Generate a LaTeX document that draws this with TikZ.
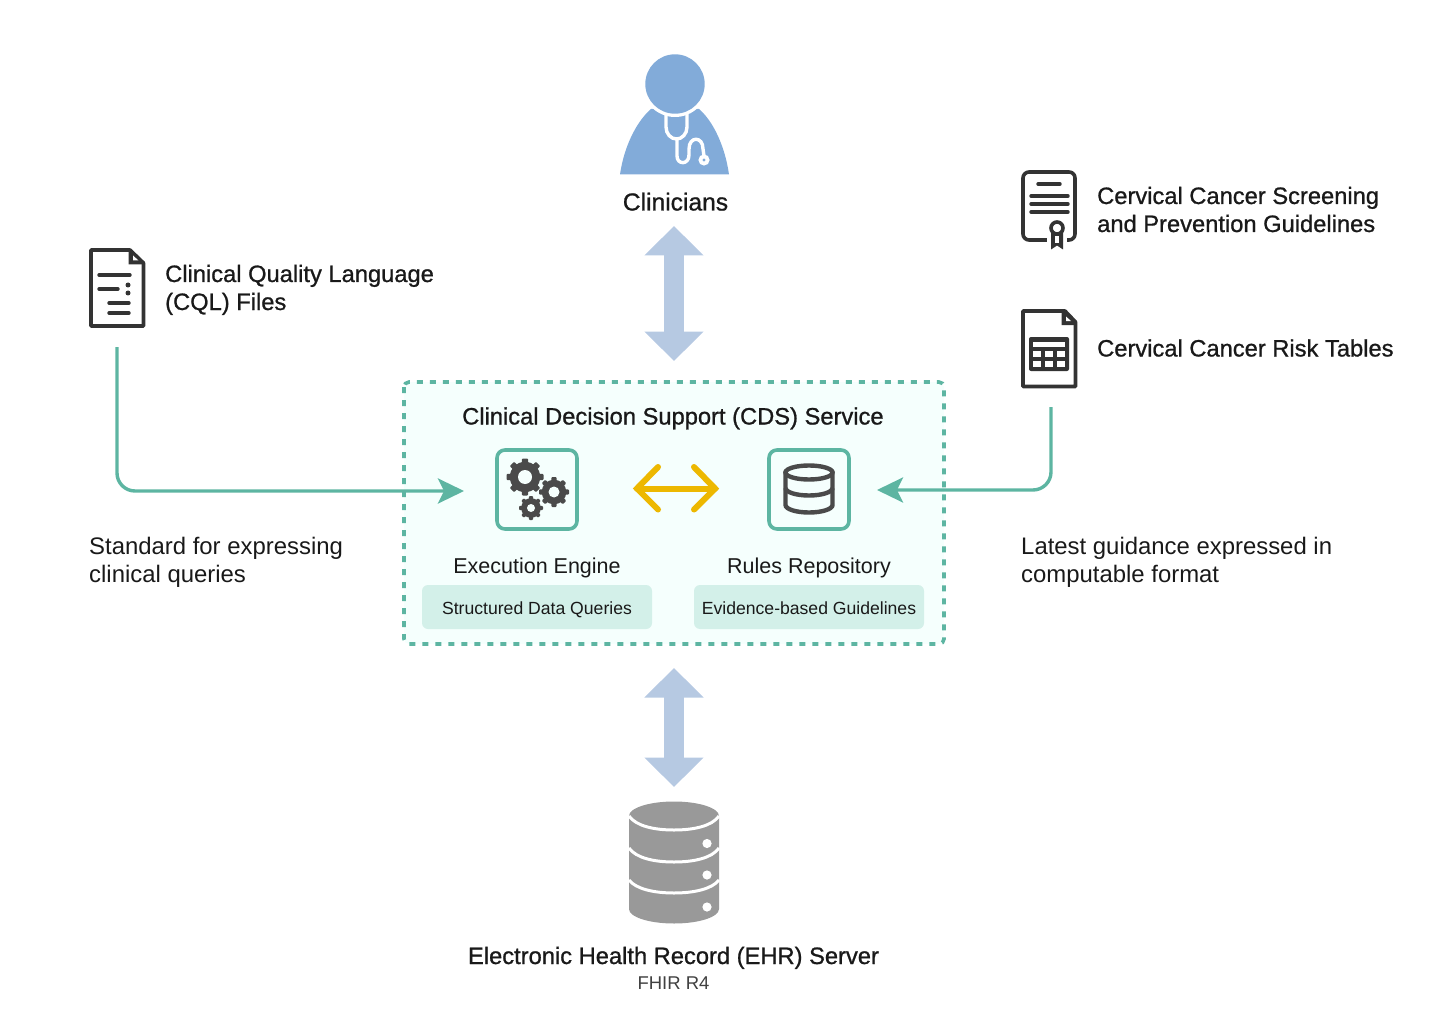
\documentclass[tikz,border=0pt]{standalone}
\usepackage{fontspec}
\setmainfont{Liberation Sans}
\newfontfamily\medfont[FakeBold=0.9]{Liberation Sans}
\usetikzlibrary{arrows.meta}
\definecolor{ink}{HTML}{333333}
\definecolor{gearc}{HTML}{4A4A4A}
\definecolor{teal}{HTML}{5DB5A2}
\definecolor{boxbg}{HTML}{F5FFFD}
\definecolor{pill}{HTML}{D3F0E9}
\definecolor{skyb}{HTML}{B6C9E2}
\definecolor{docblue}{HTML}{82ABD9}
\definecolor{gold}{HTML}{EDB800}
\definecolor{dbgrey}{HTML}{999999}
\newcommand{\mygear}[5]{% x,y,outer,hole,teeth
  \begin{scope}[shift={(#1,#2)}]
    \fill[gearc] (0,0) circle ({#3*0.82});
    \foreach \k in {1,...,#5}{
      \fill[gearc,rotate={360/#5*\k},rounded corners=1pt] ({-#3*0.17},0) rectangle ({#3*0.17},{#3});
    }
    \fill[boxbg] (0,0) circle (#4);
  \end{scope}}
\tikzset{
  x=1pt,y=-1pt,
  txt/.style={inner sep=0pt,text=black!90,anchor=base west,align=left},
  boldt/.style={txt,font=\medfont\fontsize{23.7}{28}\selectfont},
  regt/.style={txt,font=\fontsize{23.9}{28}\selectfont},
  subt/.style={txt,anchor=base,font=\fontsize{21.5}{26}\selectfont},
  pillt/.style={txt,anchor=base,font=\fontsize{17.6}{22}\selectfont},
  icon/.style={draw=ink,line width=3.6pt,line join=round,fill=white},
  iconl/.style={draw=ink,line width=3.4pt,line cap=round},
  tealbox/.style={draw=teal,line width=3.6pt,rounded corners=8pt},
  pillbox/.style={fill=pill,rounded corners=6pt},
  conn/.style={draw=teal,line width=3.4pt,rounded corners=18pt,-{Stealth[length=26pt,width=25pt,inset=6pt]}},
  bigarrow/.style={draw=skyb,line width=20pt,{Triangle[length=29.5pt,width=57.5pt]}-{Triangle[length=29.5pt,width=57.5pt]}},
  goldarrow/.style={draw=gold,line width=6pt,line cap=round,line join=miter},
}
\begin{document}
\begin{tikzpicture}
\useasboundingbox (0,0) rectangle (1440,1024);
% CDS box
\draw[draw=teal,fill=boxbg,line width=3.6pt,rounded corners=5pt,dash pattern=on 6pt off 7pt] (404,382) rectangle (944,644);
\node[boldt] (cdstitle) at (462,424.5) {Clinical Decision Support (CDS) Service};
% clinician
\fill[docblue] (620,174.5) .. controls (624,146) and (637,121) .. (651,109) -- (699,109) .. controls (713,121) and (725,146) .. (729,174.5) -- cycle;
\fill[white] (675,84) circle (33);
\fill[docblue] (675,84) circle (29.7);
\draw[white,line width=3.4pt] (666,114) -- (666,127) .. controls (666,134) and (671,139) .. (676.5,139) .. controls (682,139) and (687,134) .. (687,127) -- (687,114);
\draw[white,line width=3.4pt] (677,139) -- (677,156) .. controls (677,165) and (689,165) .. (689,155) -- (689,149) .. controls (689,136) and (703,136) .. (703,149) -- (704,156);
\fill[white] (704,160) circle (5.6);
\fill[docblue] (704,160) circle (1.6);
\node[boldt,anchor=base,font=\medfont\fontsize{24.6}{28}\selectfont] (clin) at (675.5,210.5) {Clinicians};
% CQL doc
\draw[icon] (91,250) -- (130,250) -- (143.5,263) -- (143.5,326) -- (91,326) -- cycle;
\fill[ink] (128.5,249) -- (145,264.5) -- (128.5,264.5) -- cycle;
\fill[white] (133,255.5) -- (138.5,260.5) -- (133,260.5) -- cycle;
\draw[iconl] (99,275) -- (130,275);
\draw[iconl] (99,289) -- (118,289);
\draw[iconl] (109,303) -- (129,303);
\draw[iconl] (109,313) -- (129,313);
\fill[ink] (128,285) circle (2.5) (128,293) circle (2.5);
\coordinate (cqlout) at (117,347);
\node[boldt] (cql) at (165,282) {Clinical Quality Language};
\node[boldt] (cql2) at (165,310) {(CQL) Files};
% Certificate
\draw[icon,rounded corners=6pt] (1023,172) rectangle (1075,240);
\draw[iconl] (1038,184) -- (1060,184);
\draw[iconl] (1031,196) -- (1068,196);
\draw[iconl] (1031,204) -- (1068,204);
\draw[iconl] (1031,212) -- (1068,212);
\fill[white] (1047,232) rectangle (1067,243);
\fill[ink] (1051,230) -- (1051,249.5) -- (1057,245.5) -- (1063,249.5) -- (1063,230) -- cycle;
\fill[white] (1055,236) rectangle (1059,243);
\draw[icon] (1057,228) circle (6);
\node[boldt] (cert) at (1097,204) {Cervical Cancer Screening};
\node[boldt] (cert2) at (1097,232) {and Prevention Guidelines};
% Table doc
\draw[icon] (1023,311) -- (1065,311) -- (1075.5,322) -- (1075.5,386.5) -- (1023,386.5) -- cycle;
\fill[ink] (1061.5,310) -- (1077,325) -- (1061.5,325) -- cycle;
\fill[white] (1066,316.5) -- (1071,321) -- (1066,321) -- cycle;
\fill[ink,rounded corners=2pt] (1029,337) rectangle (1069,371);
\fill[white] (1033,341.5) rectangle (1065,347);
\foreach \cy in {351,361}{\foreach \cx in {1033,1045,1057}{\fill[white] (\cx,\cy) rectangle (\cx+8,\cy+6);}}
\coordinate (tabout) at (1051,407);
\node[boldt] (tab) at (1097,356.5) {Cervical Cancer Risk Tables};
% inner boxes
\draw[tealbox] (497,450) rectangle (577,529);
\coordinate (engin) at (464,491);
\mygear{525}{477}{18.5}{7}{8}
\mygear{554}{492}{15}{5.5}{8}
\mygear{531}{508}{12}{4}{8}
\draw[tealbox] (769,450) rectangle (849,529);
\coordinate (repin) at (877,490);
\draw[draw=gearc,line width=4.4pt,line cap=round] (785.5,472) -- (785.5,505) arc[start angle=180,end angle=360,x radius=23.5,y radius=-7.5] -- (832.5,472);
\draw[draw=gearc,line width=4.4pt] (809,472.5) ellipse (23.5 and 7);
\draw[draw=gearc,line width=4.4pt] (785.5,488) arc[start angle=180,end angle=360,x radius=23.5,y radius=-7.5];
% connectors
\draw[conn] (cqlout) |- (engin);
\draw[conn] (tabout) |- (repin);
% gold arrow
\coordinate (gl) at (637,488.5);
\coordinate (gr) at (715,488.5);
\draw[goldarrow] (gl) -- (gr);
\draw[goldarrow] (658,467) -- (gl) -- (658,509.5);
\draw[goldarrow] (694,467) -- (gr) -- (694,509.5);
% labels
\node[subt] (ee) at (537,573) {Execution Engine};
\node[subt] (rr) at (809,573) {Rules Repository};
\node[pillbox,minimum width=230pt,minimum height=44pt,inner sep=0pt] (p1) at (537,607) {};
\node[pillbox,minimum width=230pt,minimum height=44pt,inner sep=0pt] (p2) at (809,607) {};
\node[pillt] (p1t) at (537,614) {Structured Data Queries};
\node[pillt] (p2t) at (809,614) {Evidence-based Guidelines};
\node[regt] (s1) at (89,554) {Standard for expressing};
\node[regt] (s2) at (89,582) {clinical queries};
\node[regt] (l1) at (1021,554) {Latest guidance expressed in};
\node[regt] (l2) at (1021,582) {computable format};
% big arrows
\coordinate (a1) at (674,226);
\coordinate (a2) at (674,361);
\coordinate (b1) at (674,668);
\coordinate (b2) at (674,787);
\draw[bigarrow] (a1) -- (a2);
\draw[bigarrow] (b1) -- (b2);
% DB
\fill[dbgrey] (629,816) arc[start angle=180,end angle=0,x radius=45,y radius=-14.5] -- (719,909) arc[start angle=360,end angle=180,x radius=45,y radius=-14.5] -- cycle;
\draw[white,line width=3pt] (629,816) .. controls (636,826) and (654,830) .. (674,830) .. controls (694,830) and (712,826) .. (719,816);
\draw[white,line width=3pt] (629,848) .. controls (636,858) and (654,862) .. (674,862) .. controls (694,862) and (712,858) .. (719,848);
\draw[white,line width=3pt] (629,880) .. controls (636,889) and (654,893) .. (674,893) .. controls (694,893) and (712,889) .. (719,880);
\fill[white] (707,843.5) circle (4.6) (707,875) circle (4.6) (707,907) circle (4.6);
\node[boldt,anchor=base] (ehr) at (673.5,964) {Electronic Health Record (EHR) Server};
\node[txt,anchor=base,font=\fontsize{18.5}{22}\selectfont,text=black!75] (fhir) at (673.5,989) {FHIR R4};
\end{tikzpicture}
\end{document}
